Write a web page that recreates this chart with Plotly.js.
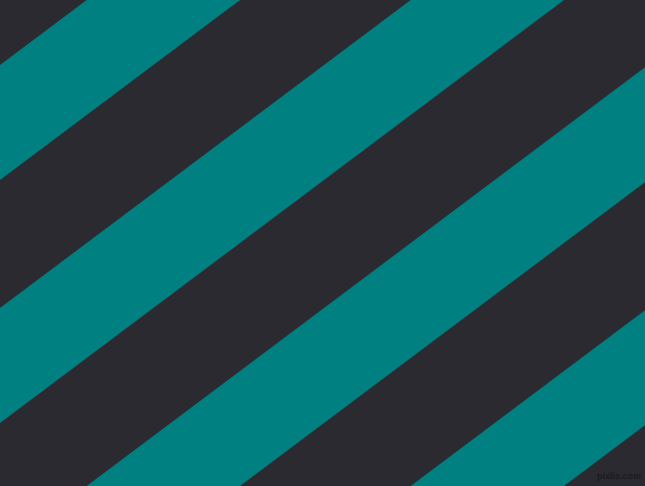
<!DOCTYPE html>
<html>
<head>
<meta charset="utf-8">
<script src="https://cdn.plot.ly/plotly-3.0.1.min.js"></script>
<style>html,body{margin:0;padding:0;background:#2c2a31;}#chart{width:645px;height:486px;}</style>
</head>
<body>
<div id="chart"></div>
<script>
// Teal stripe boundaries: y-intercept (pixels from top) at left edge, x = 0
var stripeStart = [65, 308, 551, 794];
var stripeEnd = [180, 423, 666, 909];
// Stripe slope (rise per unit x, y measured downward)
var stripeSlope = 0.75;
var watermark = "pixlis.com";

var W = 645, H = 486;
var teal = "#008080", dark = "#2c2a31";

var traces = stripeStart.map(function (a, i) {
  var b = stripeEnd[i];
  var x0 = -20, x1 = W + 20;
  return {
    type: "scatter",
    mode: "lines",
    x: [x0, x1, x1, x0, x0],
    y: [a - stripeSlope * x0, a - stripeSlope * x1, b - stripeSlope * x1, b - stripeSlope * x0, a - stripeSlope * x0],
    fill: "toself",
    fillcolor: teal,
    line: {width: 0, color: teal},
    hoverinfo: "skip",
    showlegend: false
  };
});

var layout = {
  width: W,
  height: H,
  margin: {l: 0, r: 0, t: 0, b: 0, pad: 0},
  paper_bgcolor: dark,
  plot_bgcolor: dark,
  showlegend: false,
  xaxis: {range: [0, W], visible: false, fixedrange: true},
  yaxis: {range: [H, 0], visible: false, fixedrange: true},
  annotations: [{
    text: watermark,
    xref: "paper", yref: "paper",
    x: 1, y: 0,
    xanchor: "right", yanchor: "bottom",
    xshift: -2, yshift: 3,
    showarrow: false,
    font: {family: "Liberation Sans, Arial, sans-serif", size: 9, color: "#1b1a20", weight: "bold"}
  }]
};

Plotly.newPlot("chart", traces, layout, {staticPlot: true, displayModeBar: false});
</script>
</body>
</html>
